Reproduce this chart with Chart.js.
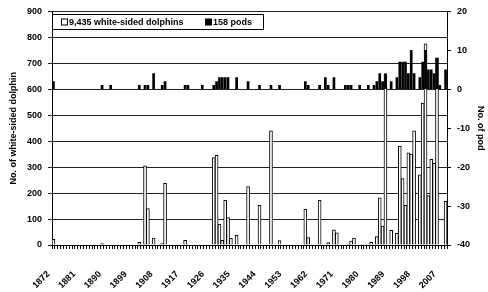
<!DOCTYPE html>
<html><head><meta charset="utf-8">
<script src="https://cdn.jsdelivr.net/npm/chart.js@4/dist/chart.umd.min.js"></script>
<style>html,body{margin:0;padding:0;background:#fff}#wrap{width:488px;height:292px}</style>
</head><body><div id="wrap"><canvas id="c" width="488" height="292"></canvas></div>
<script>
// ---- data ----
const firstYear = 1872;
const lastYear = 2009;
const labelStep = 9;
const dolphinLabel = '9,435 white-sided dolphins';
const podLabel = '158 pods';
const leftTitle = 'No. of white-sided dolphin';
const rightTitle = 'No. of pod';

const dolphinYears  = [1872,1889,1902,1904,1905,1907,1910,1911,1918,1928,1929,1930,1931,1932,1933,1934,1936,1940,1944,1948,1951,1960,1961,1965,1968,1970,1971,1975,1976,1977,1980,1983,1985,1986,1987,1988,1990,1992,1993,1994,1995,1996,1997,1998,2000,2001,2002,2003,2004,2005,2006,2009];
const dolphinCounts = [22,5,10,305,140,27,5,238,18,337,345,80,18,172,106,26,37,225,153,440,17,137,29,172,9,58,47,3,15,27,3,10,32,182,73,655,57,45,380,256,153,355,350,440,270,547,775,190,330,315,720,168];

const podYears  = [1872,1889,1892,1902,1904,1905,1907,1910,1911,1918,1919,1924,1928,1929,1930,1931,1932,1933,1936,1940,1944,1948,1951,1960,1961,1965,1967,1968,1970,1974,1975,1976,1979,1982,1984,1985,1986,1987,1988,1990,1992,1993,1994,1995,1996,1997,1998,2000,2001,2002,2003,2004,2005,2006,2007,2009];
const podCounts = [2,1,1,1,1,1,4,1,2,1,1,1,1,2,3,3,3,3,3,2,1,1,1,2,1,1,3,1,3,1,1,1,1,1,1,2,4,2,4,2,3,7,7,7,4,10,4,3,7,10,5,5,4,8,1,5];

const leftTicks = {min:0, max:900, step:100};
const rightTicks = {min:-40, max:20, step:10};

// ---- build series ----
const years = [];
for (let y = firstYear; y <= lastYear; y++) years.push(String(y));
function series(ys, vs){
  const out = years.map(() => null);
  ys.forEach((y, i) => { out[y - firstYear] = vs[i]; });
  return out;
}
const dolphinSeries = series(dolphinYears, dolphinCounts);
const podSeries = series(podYears, podCounts);

const FONT = '"Liberation Sans", Arial, sans-serif';
const f9 = {family: FONT, size: 9, weight: 'bold'};

const legendBox = {
  id: 'legendBox',
  afterDraw(chart){
    const ctx = chart.ctx, a = chart.chartArea;
    const ds = chart.data.datasets;
    ctx.save();
    const x0 = Math.round(a.left), y0 = Math.round(a.top) + 3, w = 211, h = 15;
    ctx.fillStyle = '#fff'; ctx.fillRect(x0, y0, w, h);
    ctx.strokeStyle = '#000'; ctx.lineWidth = 1; ctx.strokeRect(x0 + 0.5, y0 + 0.5, w, h);
    ctx.font = 'bold 9px ' + FONT;
    ctx.textBaseline = 'middle';
    const cy = y0 + h / 2 + 1;
    ctx.fillStyle = '#fff'; ctx.fillRect(x0 + 9, cy - 4, 6, 6);
    ctx.strokeStyle = '#000'; ctx.strokeRect(x0 + 9.5, cy - 3.5, 6, 6);
    ctx.fillStyle = '#000'; ctx.fillText(ds[0].label, x0 + 17, cy);
    ctx.fillRect(x0 + 153, cy - 4, 7, 7);
    ctx.fillText(ds[1].label, x0 + 161, cy);
    ctx.restore();
  }
};

new Chart(document.getElementById('c'), {
  type: 'bar',
  data: {
    labels: years,
    datasets: [
      {label: dolphinLabel, data: dolphinSeries, yAxisID: 'y', backgroundColor: '#fff', borderColor: '#000', borderWidth: 1, order: 1, barThickness: 3},
      {label: podLabel, data: podSeries, yAxisID: 'y2', backgroundColor: '#000', borderColor: '#000', borderWidth: 0, order: 0, barThickness: 2}
    ]
  },
  options: {
    responsive: false, animation: false, devicePixelRatio: 1,
    layout: {padding: {top: 11, left: 0, right: 0, bottom: 0}},
    datasets: {bar: {grouped: false}},
    plugins: {legend: {display: false}, tooltip: {enabled: false}},
    scales: {
      x: {
        ticks: {autoSkip: false, maxRotation: 45, minRotation: 45, font: f9, color: '#000', padding: 20, labelOffset: -5,
          callback: function(v, i){ return i % labelStep === 0 ? this.getLabelForValue(v) : ''; }},
        grid: {drawOnChartArea: false, tickLength: 4, color: '#000', offset: true},
        border: {color: '#000', width: 1},
        afterFit(s){ s.height = 47; }
      },
      y: {
        position: 'left', min: leftTicks.min, max: leftTicks.max,
        ticks: {stepSize: leftTicks.step, font: f9, color: '#000', padding: 6},
        grid: {color: '#222', lineWidth: 1, tickLength: 4},
        border: {color: '#000', width: 1},
        title: {display: true, text: leftTitle, font: f9, color: '#000', padding: {top: 8, bottom: 0}},
        afterFit(s){ s.width = 52; }
      },
      y2: {
        position: 'right', min: rightTicks.min, max: rightTicks.max,
        ticks: {stepSize: rightTicks.step, font: f9, color: '#000', padding: 6},
        grid: {drawOnChartArea: false, tickLength: 4, color: '#000'},
        border: {color: '#000', width: 1},
        title: {display: true, text: rightTitle, font: f9, color: '#000', padding: {top: 2, bottom: 0}},
        afterFit(s){ s.width = 41; }
      }
    }
  },
  plugins: [legendBox]
});
</script></body></html>
